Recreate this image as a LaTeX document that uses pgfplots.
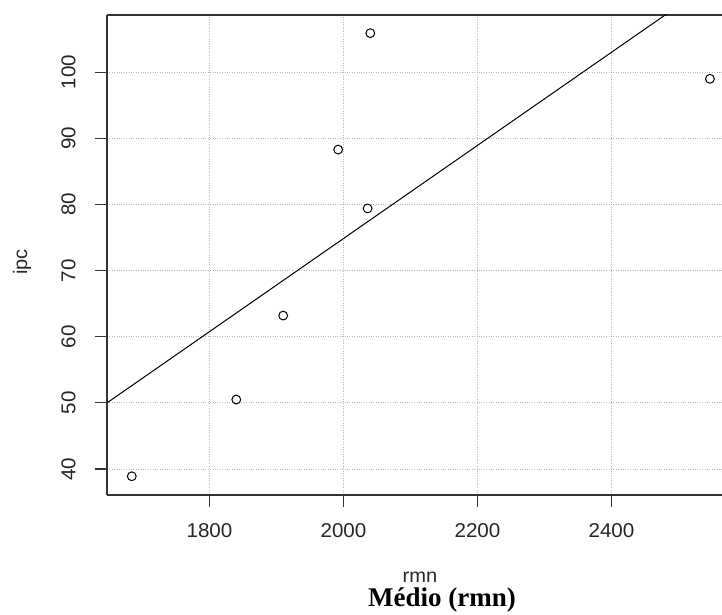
\documentclass[border=0pt]{standalone}
\usepackage{pgfplots}
\pgfplotsset{compat=1.18}
\usepackage{fontspec}
\setmainfont{Liberation Sans}[FakeStretch=1.03]
\newfontfamily\serifb{Liberation Serif}
\begin{document}
\begin{tikzpicture}
\begin{axis}[
  scale only axis,
  width=615pt, height=480pt,
  xmin=1647, xmax=2565,
  ymin=36.07, ymax=108.65,
  axis x line*=box,
  axis y line*=left,
  axis line style={line width=1.2pt, color=black!80},
  xtick={1800,2000,2200,2400},
  ytick={40,50,60,70,80,90,100},
  tick align=outside,
  major tick length=12pt,
  tick style={line width=1.2pt, color=black!80},
  xtick pos=bottom, ytick pos=left,
  grid=major,
  major grid style={dotted, color=black!28, line width=1pt},
  ticklabel style={font=\fontsize{20}{21}\selectfont, text=black!85},
  /pgf/number format/assume math mode=true,
  /pgf/number format/1000 sep={},
  yticklabel style={rotate=90, anchor=south},
  yticklabel shift=16pt,
  xticklabel shift=13pt,
  clip=true,
]
\addplot[only marks, mark=o, mark size=4.4pt, mark options={line width=1pt, black}]
  coordinates {(1684,38.9) (1840,50.5) (1910,63.2) (1992,88.3) (2036,79.4) (2040,105.9) (2547,99.0)};
\addplot[black, line width=1pt] coordinates {(1600,46.69) (2600,117.09)};
\coordinate (sw) at (rel axis cs:0,0);
\coordinate (ne) at (rel axis cs:1,1);
\end{axis}
\node[font=\fontsize{19.5}{20}\selectfont, text=black!85] at ([shift={(313pt,-82pt)}]sw) {rmn};
\node[font=\serifb\bfseries\fontsize{27}{28}\selectfont] at ([shift={(335pt,-105pt)}]sw) {Médio (rmn)};
\node[font=\fontsize{19.5}{20}\selectfont, text=black!85, rotate=90] at ([shift={(-85pt,233pt)}]sw) {ipc};
\pgfresetboundingbox
\path ([shift={(-107pt,-120pt)}]sw) rectangle ([yshift=15pt]ne);
\end{tikzpicture}
\end{document}
